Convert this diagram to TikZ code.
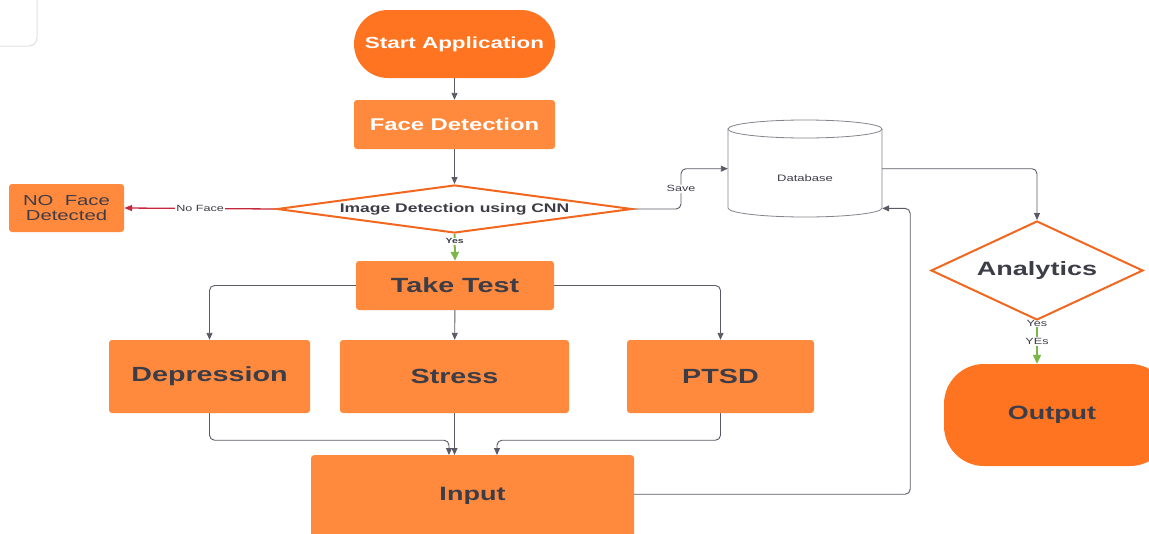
\documentclass[tikz,border=0pt]{standalone}
\usepackage{fontspec}
\setmainfont{Liberation Sans}[FakeStretch=1.4]
\usetikzlibrary{shapes.geometric,arrows.meta,backgrounds}
\definecolor{termor}{HTML}{FF7420}
\definecolor{boxor}{HTML}{FF8A3D}
\definecolor{diaor}{HTML}{F2671F}
\definecolor{txt}{HTML}{3D3D48}
\definecolor{linegray}{HTML}{5A5A66}
\definecolor{redc}{HTML}{C4283A}
\definecolor{greenc}{HTML}{7AB648}
\tikzset{
  box/.style={rectangle, rounded corners=3pt, fill=boxor, draw=none, text=txt, inner sep=0pt,
    font=\bfseries\fontsize{20.5}{24}\selectfont},
  term/.style={rectangle, fill=termor, draw=none, inner sep=0pt},
  dia/.style={diamond, draw=diaor, line width=2pt, fill=white, inner sep=0pt, text=txt},
  conn/.style={draw=linegray, line width=0.9pt, -{Triangle[length=7pt,width=6pt]}, rounded corners=5pt},
  redconn/.style={draw=redc, line width=1.3pt, -{Triangle[length=8pt,width=6pt]}},
  greenconn/.style={draw=greenc, line width=2pt, -{Triangle[length=9pt,width=8pt]}},
  lbl/.style={fill=white, inner sep=1pt, text=txt, font=\fontsize{9}{10}\selectfont},
}
\begin{document}
\begin{tikzpicture}[x=1pt,y=-1pt]
\clip (0,0) rectangle (1149,533);
% leftover frame at top-left
\draw[draw=black!12, line width=1pt, rounded corners=8pt] (-20,-20) rectangle (37,46);

% nodes
\node[term, minimum width=201pt, minimum height=68pt, rounded corners=34pt, text=white,
  font=\bfseries\fontsize{16}{19}\selectfont] (start) at (454.5,44) {Start Application};
\node[box, minimum width=201pt, minimum height=49pt, text=white,
  font=\bfseries\fontsize{17}{20}\selectfont] (face) at (454.5,124.5) {Face Detection};
\node[dia, minimum width=355pt, minimum height=48pt, shape aspect=7.4,
  font=\bfseries\fontsize{12.5}{15}\selectfont] (img) at (454.5,209) {Image Detection using CNN};
\node[box, minimum width=115pt, minimum height=48pt, align=center,
  font=\fontsize{14.5}{14.5}\selectfont] (noface) at (66.5,208) {NO\ \ Face\\Detected};
\node[box, minimum width=198pt, minimum height=49pt] (take) at (455,285.5) {Take Test};
\node[box, minimum width=201pt, minimum height=73pt] (dep) at (209.5,376.5) {Depression};
\node[box, minimum width=229pt, minimum height=73pt] (stress) at (454.5,376.5) {Stress};
\node[box, minimum width=187pt, minimum height=73pt] (ptsd) at (720.5,376.5) {PTSD};
\node[box, anchor=north, minimum width=323pt, text height=45pt, text depth=45pt,
  font=\bfseries\fontsize{19.3}{22}\selectfont] (input) at (472.5,455) {Input};

% database cylinder
\node[rectangle, anchor=north, minimum width=154pt, inner sep=0pt, text height=61.5pt, text depth=35.5pt,
  text=txt, font=\fontsize{9.3}{11}\selectfont] (db) at (805,120) {Database};
\begin{scope}[on background layer]
\filldraw[fill=white, draw=linegray!75, line width=0.8pt]
  (728,129) -- (728,208) arc[start angle=180, end angle=360, x radius=77pt, y radius=9pt] -- (882,129);
\filldraw[fill=white, draw=linegray!75, line width=0.8pt] (805,129) ellipse [x radius=77pt, y radius=9pt];
\end{scope}

\node[dia, minimum width=212pt, minimum height=99pt, shape aspect=2.14,
  font=\bfseries\fontsize{19.3}{22}\selectfont] (ana) at (1037,270.5) {Analytics};
\node[term, minimum width=226pt, minimum height=102pt, rounded corners=40pt, text=txt,
  font=\bfseries\fontsize{19.2}{22}\selectfont] (out) at (1057,415) {\hspace*{-10pt}Output};

% connectors
\begin{scope}[on background layer]
\draw[conn] (start) -- (face);
\draw[conn] (face) -- (img.north);
\draw[redconn] (img.west) -- node[lbl, pos=0.5] {No Face} (noface.east);
\draw[greenconn] (img.south) -- node[lbl, pos=0.27, font=\bfseries\fontsize{7.5}{9}\selectfont] {Yes} (take.north);
\draw[conn] (img.east) -- ++(48,0) |- node[lbl, pos=0.25] {Save} (db.west);
\draw[conn] (db.east) -| (ana.north);
\draw[greenconn] (ana.south) -- node[lbl, pos=0.06, inner sep=0.5pt] {Yes}
  node[lbl, pos=0.48] {YEs} (ana.south |- out.north);
\draw[conn] (take.west) -| (dep.north);
\draw[conn] (take) -- (stress);
\draw[conn] (take.east) -| (ptsd.north);
\draw[conn] (dep.south) -- ++(0,27) -| ([xshift=-23.5pt]input.north);
\draw[conn] (stress.south) -- (stress.south |- input.north);
\draw[conn] (ptsd.south) -- ++(0,27) -| ([xshift=24.5pt]input.north);
\draw[conn] ([yshift=6pt]input.east) -- ++(276,0) |- ([yshift=9pt]db.south east);
\end{scope}
\end{tikzpicture}
\end{document}
